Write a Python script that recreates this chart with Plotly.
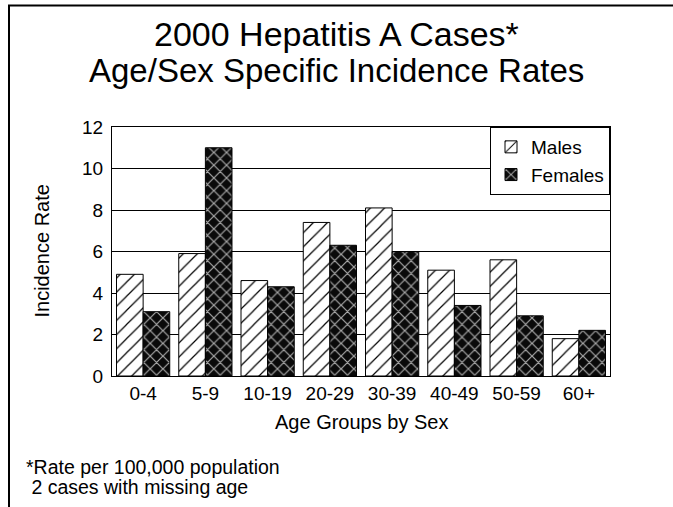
import plotly.graph_objects as go

categories = ["0-4", "5-9", "10-19", "20-29", "30-39", "40-49", "50-59", "60+"]
males = [4.9, 5.9, 4.6, 7.4, 8.1, 5.1, 5.6, 1.8]
females = [3.1, 11.0, 4.3, 6.3, 6.0, 3.4, 2.9, 2.2]
y_ticks = [0, 2, 4, 6, 8, 10, 12]

title_lines = ["2000 Hepatitis A Cases*", "Age/Sex Specific Incidence Rates"]
x_title = "Age Groups by Sex"
y_title = "Incidence Rate"
footnote_lines = ["*Rate per 100,000 population", "\u00a02 cases with missing age"]

FONT = "Arial, 'Liberation Sans', sans-serif"

fig = go.Figure()
fig.add_trace(go.Bar(
    x=categories, y=males, name="Males",
    marker=dict(color="white", line=dict(color="black", width=1),
                pattern=dict(shape="/", fgcolor="black", bgcolor="white",
                             size=10, solidity=0.12, fillmode="replace")),
))
fig.add_trace(go.Bar(
    x=categories, y=females, name="Females",
    marker=dict(color="black", line=dict(color="black", width=1),
                pattern=dict(shape="x", fgcolor="#a8a8a8", bgcolor="#0a0a0a",
                             size=9, solidity=0.25, fillmode="replace")),
))

L, R, T, B = 112, 63, 127, 131
W, H = 673, 507
pw = W - L - R
ph = H - T - B

def px_x(px):
    return (px - L) / pw

def px_y(py):
    return (H - B - py) / ph

title_shift = W / 2 - (L + pw / 2)
annotations = [
    dict(text=title_lines[0], x=0.5, xref="paper", xanchor="center",
         y=px_y(34), yref="paper", yanchor="middle", xshift=title_shift,
         showarrow=False, font=dict(size=34, color="black", family=FONT)),
    dict(text=title_lines[1], x=0.5, xref="paper", xanchor="center",
         y=px_y(70.5), yref="paper", yanchor="middle", xshift=title_shift,
         showarrow=False, font=dict(size=33, color="black", family=FONT)),
    dict(text=x_title, x=0.5, xref="paper", xanchor="center",
         y=px_y(422), yref="paper", yanchor="middle",
         showarrow=False, font=dict(size=20, color="black", family=FONT)),
    dict(text=y_title, x=px_x(41), xref="paper", xanchor="center",
         y=0.5, yref="paper", yanchor="middle", textangle=-90,
         showarrow=False, font=dict(size=20, color="black", family=FONT)),
    dict(text=footnote_lines[0], x=px_x(24), xref="paper", xanchor="left",
         y=px_y(467), yref="paper", yanchor="middle", align="left",
         showarrow=False, font=dict(size=19.5, color="black", family=FONT)),
    dict(text=footnote_lines[1], x=px_x(24), xref="paper", xanchor="left",
         y=px_y(487), yref="paper", yanchor="middle", align="left",
         showarrow=False, font=dict(size=19.5, color="black", family=FONT)),
]

shapes = [
    dict(type="rect", xref="paper", yref="paper",
         x0=px_x(9), x1=px_x(720), y0=px_y(560), y1=px_y(5.5),
         line=dict(color="black", width=2), fillcolor="rgba(0,0,0,0)", layer="above"),
]

fig.update_layout(
    width=W, height=H,
    margin=dict(l=L, r=R, t=T, b=B, pad=0),
    paper_bgcolor="white", plot_bgcolor="white",
    font=dict(family=FONT, color="black", size=19),
    barmode="group", bargap=0.145, bargroupgap=0,
    showlegend=True,
    legend=dict(x=1, y=1, xanchor="right", yanchor="top",
                bgcolor="white", bordercolor="black", borderwidth=1,
                font=dict(size=19, family=FONT, color="black"),
                tracegroupgap=0, itemwidth=30),
    annotations=annotations,
    shapes=shapes,
)
fig.update_xaxes(showline=True, linecolor="black", linewidth=1, mirror=True,
                 ticks="", showgrid=False, tickfont=dict(size=19))
fig.update_yaxes(range=[0, 12], tickvals=y_ticks, showline=True, linecolor="black",
                 linewidth=1, mirror=True, ticks="", showgrid=True,
                 gridcolor="black", gridwidth=1, zeroline=False,
                 tickfont=dict(size=19), ticklabelstandoff=4)

fig.write_html("out.html", config={"displayModeBar": False},
               post_script="document.body.style.margin='0';document.body.style.overflow='hidden';")
